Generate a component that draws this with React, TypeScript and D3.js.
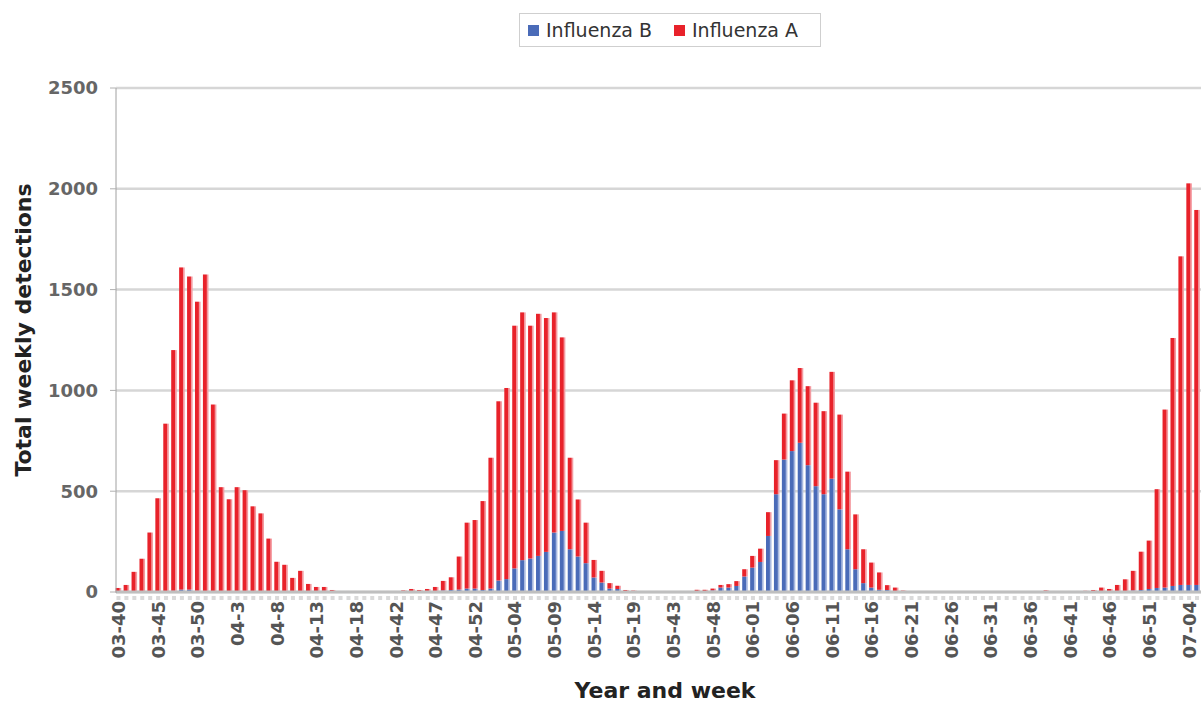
import React from 'react';
import * as d3 from 'd3';

// Weekly detections, season by season (index 0 = week 03-40)
const influenzaB: number[] = [
  // 03-40 .. 04-20
  0, 0, 2, 2, 3, 3, 5, 6, 12, 12, 6, 5, 5, 4, 4, 4, 5, 5, 5, 4, 4, 3, 3, 3, 2, 2, 6, 2, 1, 1, 1, 1, 1,
  // 04-40 .. 05-20
  1, 1, 1, 4, 2, 2, 3, 5, 8, 10, 12, 17, 17, 10, 17, 57, 64, 117, 158, 166, 179, 199, 295, 303, 212, 176, 143, 72, 47, 17, 15, 5, 3, 2,
  // 05-40 .. 07-05
  2, 1, 1, 1, 3, 3, 5, 5, 8, 22, 22, 30, 77, 121, 149, 278, 485, 657, 699, 740, 629, 525, 485, 562, 410,
  212, 113, 44, 22, 11, 10, 5, 2, 1, 1, 1, 1, 0, 0, 0, 0, 0, 0, 0, 0, 0, 0, 0, 0, 0,
  1, 1, 1, 1, 1, 1, 3, 5, 5, 5, 5, 8, 10, 15, 20, 22, 30, 35, 35, 35,
];

const influenzaA: number[] = [
  // 03-40 .. 04-20
  20, 35, 98, 163, 292, 462, 830, 1194, 1598, 1553, 1434, 1570, 925, 516, 456, 516, 500, 420, 385, 261, 146, 132, 67, 102, 38, 23, 19, 8, 4, 4, 4, 4, 4,
  // 04-40 .. 05-20
  4, 4, 4, 4, 13, 8, 12, 20, 47, 63, 164, 327, 340, 441, 649, 889, 948, 1204, 1229, 1155, 1201, 1160, 1092, 960, 454, 283, 201, 87, 58, 27, 16, 5, 4, 3,
  // 05-40 .. 07-05
  3, 4, 4, 2, 2, 2, 6, 6, 9, 13, 17, 24, 36, 58, 66, 118, 169, 228, 351, 371, 392, 414, 412, 530, 470,
  385, 272, 168, 124, 86, 24, 17, 5, 4, 4, 4, 4, 2, 2, 2, 2, 2, 2, 2, 2, 2, 5, 2, 2, 2,
  7, 4, 4, 4, 4, 5, 7, 17, 10, 30, 58, 97, 190, 240, 490, 883, 1230, 1630, 1992, 1860,
];

// one label every 5 weeks, starting with the first week
const tickLabels: string[] = [
  '03-40', '03-45', '03-50', '04-3', '04-8', '04-13', '04-18', '04-42', '04-47', '04-52',
  '05-04', '05-09', '05-14', '05-19', '05-43', '05-48', '06-01', '06-06', '06-11', '06-16',
  '06-21', '06-26', '06-31', '06-36', '06-41', '06-46', '06-51', '07-04',
];
const tickStep = 5;
const yTicks: number[] = [0, 500, 1000, 1500, 2000, 2500];
const seriesKeys = ['B', 'A'];
const seriesNames = ['Influenza B', 'Influenza A'];
const seriesColors = ['#4a6bb8', '#e8222a'];
const seriesLight = ['#a9b9e0', '#f49aa0'];

const FONT = '"DejaVu Sans", Verdana, sans-serif';

export default function App() {
  const W = 1201;
  const H = 704;
  const n = influenzaA.length;
  const x = d3
    .scaleBand<number>()
    .domain(d3.range(n))
    .range([114.5, 1201])
    .paddingInner(0.3)
    .paddingOuter(0.15);
  const y = d3.scaleLinear().domain([0, 2500]).range([592, 88]);
  const rows = d3.range(n).map((i) => ({ i, B: influenzaB[i], A: influenzaA[i] }));
  const stacked = d3.stack<any>().keys(seriesKeys)(rows as any);
  const bw = x.bandwidth();

  return (
    <svg
      width={W}
      height={H}
      style={{ position: 'absolute', left: 0, top: 0, background: '#fff' }}
      fontFamily={FONT}
    >
      <defs>
        {seriesKeys.map((k, si) => (
          <linearGradient key={k} id={`grad${k}`} x1="0" x2="1" y1="0" y2="0">
            <stop offset="0" stopColor={seriesColors[si]} />
            <stop offset="0.6" stopColor={seriesColors[si]} />
            <stop offset="0.78" stopColor={seriesLight[si]} />
            <stop offset="1" stopColor={seriesLight[si]} />
          </linearGradient>
        ))}
      </defs>

      {/* gridlines */}
      {yTicks.map((t) => (
        <line key={t} x1={116} x2={W} y1={y(t)} y2={y(t)} stroke="#d6d6d6" strokeWidth={2.5} />
      ))}

      {/* bars */}
      {stacked.map((layer, si) => (
        <g key={layer.key}>
          {layer.map((d: any, i: number) => {
            const y0 = y(d[0]);
            const y1 = y(d[1]);
            const h = Math.max(0, y0 - y1);
            if (h <= 0) return null;
            return (
              <rect
                key={i}
                x={x(i)}
                y={y1}
                width={bw}
                height={h}
                fill={`url(#grad${seriesKeys[si]})`}
              />
            );
          })}
        </g>
      ))}

      {/* x axis baseline and small category marks */}
      <line x1={116} x2={W} y1={592} y2={592} stroke="#bfbfbf" strokeWidth={3} />
      {d3.range(n).map((i) => (
        <rect key={i} x={(x(i) as number) + bw / 2 - 2} y={596} width={4} height={4} fill="#dadada" />
      ))}

      {/* y axis */}
      <line x1={116} x2={116} y1={88} y2={593} stroke="#a0a0a0" strokeWidth={1} />
      {yTicks.map((t) => (
        <g key={t}>
          <line x1={110} x2={116} y1={y(t)} y2={y(t)} stroke="#b0b0b0" strokeWidth={1} />
          <text
            x={98}
            y={y(t)}
            dy="0.36em"
            textAnchor="end"
            fontSize={18}
            fontWeight="bold"
            fill="#666"
          >
            {t}
          </text>
        </g>
      ))}

      {/* x tick labels */}
      {tickLabels.map((lab, k) => {
        const i = k * tickStep;
        const cx = (x(i) as number) + bw / 2;
        return (
          <text
            key={lab + k}
            transform={`translate(${cx},${601}) rotate(-90)`}
            dy="0.36em"
            textAnchor="end"
            fontSize={18}
            fontWeight="bold"
            fill="#555"
          >
            {lab}
          </text>
        );
      })}

      {/* axis titles */}
      <text
        transform={`translate(${31},${330}) rotate(-90)`}
        textAnchor="middle"
        fontSize={22}
        fontWeight="bold"
        fill="#222"
      >
        Total weekly detections
      </text>
      <text x={665} y={698} textAnchor="middle" fontSize={22} fontWeight="bold" fill="#222">
        Year and week
      </text>

      {/* legend */}
      <rect x={519.5} y={13.5} width={301} height={33} fill="#fff" stroke="#cfcfcf" strokeWidth={1} />
      {seriesNames.map((name, si) => {
        const lx = si === 0 ? 528 : 674;
        return (
          <g key={name}>
            <rect x={lx} y={25} width={11} height={11} fill={seriesColors[si]} />
            <text x={lx + 18} y={37} fontSize={19} fill="#333">
              {name}
            </text>
          </g>
        );
      })}
    </svg>
  );
}
